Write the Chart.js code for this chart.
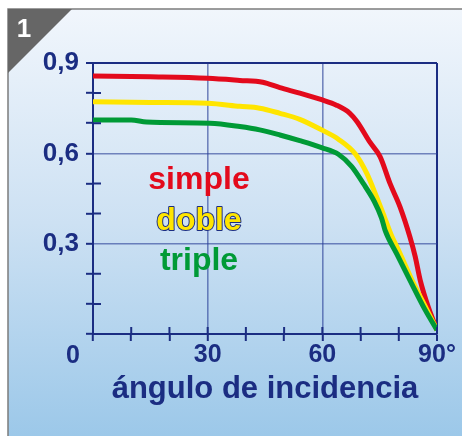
<!DOCTYPE html>
<html>
<head>
<meta charset="utf-8">
<script src="https://cdn.jsdelivr.net/npm/chart.js@4"></script>
<style>
  html, body { margin: 0; padding: 0; background: #ffffff; }
  #c { display: block; }
</style>
</head>
<body>
<canvas id="c" width="462" height="436"></canvas>
<script>
// ---- data ----
const seriesNames = ['simple', 'doble', 'triple'];
const seriesColors = ['#e30a1c', '#ffe500', '#009a36'];

const simpleAngles = [0, 15, 30, 38.4, 44.4, 48.9, 54.1, 59.8, 63.7, 67.2, 69.1, 72.5, 75.1, 77.7, 80.3, 82.9, 84.3, 85.6, 87.7, 90];
const simpleValues = [0.857, 0.854, 0.849, 0.842, 0.836, 0.818, 0.800, 0.778, 0.760, 0.733, 0.705, 0.636, 0.589, 0.500, 0.423, 0.323, 0.257, 0.179, 0.090, 0.013];

const dobleAngles = [0, 15, 30, 38.4, 43.6, 48.9, 54.1, 59.8, 64.2, 68.7, 71.6, 74.2, 76.2, 78.0, 80.0, 83.8, 87.3, 90];
const dobleValues = [0.771, 0.769, 0.766, 0.756, 0.750, 0.733, 0.713, 0.678, 0.647, 0.597, 0.534, 0.455, 0.390, 0.330, 0.276, 0.170, 0.082, 0.013];

const tripleAngles = [0, 10, 14, 30.6, 38.4, 43.6, 48.9, 54.1, 59.8, 64.2, 67.7, 70.7, 73.6, 75.5, 76.4, 79.5, 82.9, 86.9, 90];
const tripleValues = [0.711, 0.711, 0.704, 0.700, 0.689, 0.678, 0.661, 0.642, 0.619, 0.597, 0.556, 0.500, 0.440, 0.385, 0.345, 0.265, 0.179, 0.080, 0.013];

const xTickLabels = {30: '30', 60: '60', 90: '90°'};
const yTickLabels = {3: '0,3', 6: '0,6', 9: '0,9'};
const originLabel = '0';
const xTitle = 'ángulo de incidencia';
const panelNumber = '1';

// ---- styling ----
const NAVY = '#1b2d82';
const GRID = 'rgba(40,62,150,0.6)';
const FONT = "'Liberation Sans', Arial, Helvetica, sans-serif";

function pts(xs, ys) { return xs.map((x, i) => ({x: x, y: ys[i]})); }

const decor = {
  id: 'decor',
  beforeDraw(chart) {
    const ctx = chart.ctx, W = chart.width, H = chart.height;
    ctx.save();
    ctx.fillStyle = '#ffffff';
    ctx.fillRect(0, 0, W, H);
    const g = ctx.createLinearGradient(0, 9, 0, H);
    g.addColorStop(0, '#f1f6fc');
    g.addColorStop(0.5, '#cde1f3');
    g.addColorStop(1, '#9cc8e9');
    ctx.fillStyle = g;
    ctx.fillRect(8, 9, W - 8, H - 9);
    ctx.strokeStyle = '#7c7c7c';
    ctx.lineWidth = 1.5;
    ctx.beginPath();
    ctx.moveTo(8, H); ctx.lineTo(8, 9); ctx.lineTo(W, 9);
    ctx.stroke();
    // corner triangle
    ctx.fillStyle = '#666666';
    ctx.beginPath();
    ctx.moveTo(8, 9); ctx.lineTo(72, 9); ctx.lineTo(8, 73); ctx.closePath();
    ctx.fill();
    ctx.fillStyle = '#ffffff';
    ctx.font = 'bold 26px ' + FONT;
    ctx.textAlign = 'center';
    ctx.textBaseline = 'alphabetic';
    ctx.fillText(panelNumber, 24, 37);
    ctx.restore();
  },
  afterDraw(chart) {
    const ctx = chart.ctx;
    const xs = chart.scales.x, ys = chart.scales.y;
    const area = chart.chartArea;
    ctx.save();
    // inward tick stubs
    ctx.strokeStyle = NAVY;
    ctx.lineWidth = 2;
    ctx.beginPath();
    ys.ticks.forEach(t => {
      const k = Math.round(t.value * 10);
      if (k % 3 !== 0) {
        const p = ys.getPixelForValue(t.value);
        ctx.moveTo(area.left, p); ctx.lineTo(area.left + 8, p);
      }
    });
    xs.ticks.forEach(t => {
      const p = xs.getPixelForValue(t.value);
      ctx.moveTo(p, area.bottom); ctx.lineTo(p, area.bottom - 7);
    });
    ctx.stroke();
    // origin label
    ctx.fillStyle = NAVY;
    ctx.font = 'bold 25px ' + FONT;
    ctx.textAlign = 'center';
    ctx.textBaseline = 'alphabetic';
    ctx.fillText(originLabel, xs.getPixelForValue(0) - 20, 363);
    // series labels
    ctx.font = 'bold 32px ' + FONT;
    const baselines = [189, 230, 270];
    seriesNames.forEach((name, i) => {
      if (i === 1) {
        ctx.lineWidth = 2;
        ctx.strokeStyle = NAVY;
        ctx.lineJoin = 'round';
        ctx.strokeText(name, 199, baselines[i]);
      }
      ctx.fillStyle = seriesColors[i];
      ctx.fillText(name, 199, baselines[i]);
    });
    ctx.restore();
  }
};

const common = {borderWidth: 5, pointRadius: 0, fill: false, cubicInterpolationMode: 'monotone', borderCapStyle: 'butt', borderJoinStyle: 'round'};

new Chart(document.getElementById('c'), {
  type: 'line',
  data: {
    datasets: [
      Object.assign({label: seriesNames[0], data: pts(simpleAngles, simpleValues), borderColor: seriesColors[0], order: 2}, common),
      Object.assign({label: seriesNames[1], data: pts(dobleAngles, dobleValues), borderColor: seriesColors[1], order: 1}, common),
      Object.assign({label: seriesNames[2], data: pts(tripleAngles, tripleValues), borderColor: seriesColors[2], order: 0}, common)
    ]
  },
  options: {
    responsive: false,
    animation: false,
    devicePixelRatio: 1,
    layout: {padding: {left: 0, top: 63, right: 25, bottom: 28}},
    plugins: {legend: {display: false}, tooltip: {enabled: false}},
    scales: {
      x: {
        type: 'linear', min: 0, max: 90,
        afterFit: s => { s.height = 74; },
        border: {display: true, color: NAVY, width: 2},
        grid: {
          color: c => (c.tick && c.tick.value === 90) ? NAVY : ((c.tick && c.tick.value % 30 === 0 && c.tick.value !== 0) ? GRID : 'rgba(0,0,0,0)'),
          lineWidth: c => (c.tick && c.tick.value === 90) ? 2 : 1.6,
          drawTicks: true, tickLength: 7, tickColor: NAVY, tickWidth: 2
        },
        ticks: {
          stepSize: 10, autoSkip: false, maxRotation: 0, padding: 0,
          color: NAVY, font: {family: FONT, size: 25, weight: 'bold', lineHeight: 1.1},
          callback: v => xTickLabels[v] || ''
        },
        title: {display: true, text: xTitle, color: NAVY, padding: {top: 0, bottom: 0},
          font: {family: FONT, size: 31, weight: 'bold', lineHeight: 1.2}}
      },
      y: {
        type: 'linear', min: 0, max: 0.9,
        afterFit: s => { s.width = 93; },
        border: {display: true, color: NAVY, width: 2},
        grid: {
          color: c => {
            if (!c.tick) return 'rgba(0,0,0,0)';
            const k = Math.round(c.tick.value * 10);
            if (k === 9) return NAVY;
            if (k === 3 || k === 6) return GRID;
            return 'rgba(0,0,0,0)';
          },
          lineWidth: c => (c.tick && Math.round(c.tick.value * 10) === 9) ? 2 : 1.6,
          drawTicks: true, tickLength: 7, tickColor: NAVY, tickWidth: 2
        },
        ticks: {
          stepSize: 0.1, autoSkip: false, padding: 7,
          color: NAVY, font: {family: FONT, size: 26, weight: 'bold', lineHeight: 1.1},
          callback: v => yTickLabels[Math.round(v * 10)] || ''
        }
      }
    }
  },
  plugins: [decor]
});
</script>
</body>
</html>
